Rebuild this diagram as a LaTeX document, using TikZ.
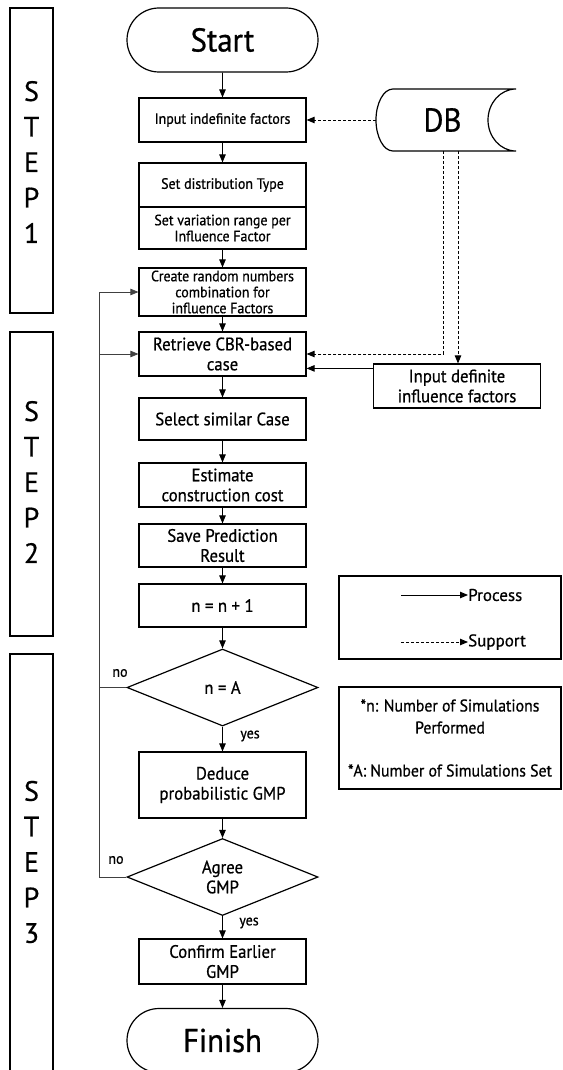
\documentclass[tikz,border=0pt]{standalone}
\usepackage{fontspec}
\setmainfont[FakeBold=0.6]{PT Sans}
\newfontfamily\condf[FakeStretch=0.93,FakeBold=0.7]{PT Sans}
\usetikzlibrary{arrows.meta,shapes.geometric,shapes.misc}
\tikzset{
  box/.style={draw, line width=1.2pt, minimum width=167pt, align=center, inner sep=0pt,
    font={\condf\fontsize{18pt}{20pt}\selectfont}},
  sbox/.style={box, font={\condf\fontsize{15pt}{16pt}\selectfont}},
  term/.style={draw, line width=1.2pt, rounded rectangle, minimum width=191pt, minimum height=64pt,
    inner sep=0pt, font={\condf\fontsize{33pt}{36pt}\selectfont}},
  dia/.style={draw, line width=1.2pt, diamond, aspect=2.48, minimum width=191pt, minimum height=77pt,
    inner sep=0pt, align=center, font={\condf\fontsize{18pt}{20pt}\selectfont}},
  stepbox/.style={draw, line width=1.2pt, minimum width=43pt, inner sep=0pt},
  steptext/.style={align=center, inner sep=0pt, font={\fontsize{28pt}{35.5pt}\selectfont}},
  lbl/.style={inner sep=0pt, font={\condf\fontsize{15pt}{16pt}\selectfont}},
  arr/.style={-{Triangle[length=8pt,width=6.5pt]}, line width=0.9pt},
  darr/.style={arr, dash pattern=on 3pt off 2pt},
  fb/.style={line width=0.7pt, draw=black!75},
  fbarr/.style={fb, -{Triangle[length=8pt,width=6.5pt]}},
  legbox/.style={draw, line width=1.2pt, minimum width=222pt, inner sep=0pt},
  legtext/.style={inner sep=0pt, anchor=west, font={\fontsize{17pt}{20pt}\selectfont}},
}
\begin{document}
\begin{tikzpicture}[x=1pt,y=-1pt]
\useasboundingbox (0,0) rectangle (562,1070);
\clip (0,0) rectangle (562,1070);
\fill[white] (0,0) rectangle (562,1070);

% step boxes
\node[stepbox, minimum height=305pt] (s1) at (31.5,160.5) {};
\node[steptext] (s1t) at (31.5,162) {S\\T\\E\\P\\1};
\node[stepbox, minimum height=304pt] (s2) at (31.5,484) {};
\node[steptext] (s2t) at (31.5,482) {S\\T\\E\\P\\2};
\node[stepbox, minimum height=440pt] (s3) at (31.5,874) {};
\node[steptext] (s3t) at (31.5,862) {S\\T\\E\\P\\3};

% main column
\node[term] (start) at (222.5,40) {Start};
\node[sbox, minimum height=44pt] (in1) at (222.5,120) {Input indefinite factors};
\node[sbox, minimum height=44pt] (dist) at (222.5,185) {Set distribution Type};
\node[sbox, minimum height=42pt] (var) at (222.5,228) {Set variation range per\\Influence Factor};
\node[sbox, minimum height=48pt] (rand) at (222.5,292) {Create random numbers\\combination for\\influence Factors};
\node[box, minimum height=44pt] (ret) at (222.5,354) {Retrieve CBR-based\\case};
\node[box, minimum height=42pt] (sel) at (222.5,419) {Select similar Case};
\node[box, minimum height=44pt] (est) at (222.5,485) {Estimate\\construction cost};
\node[box, minimum height=43pt] (save) at (222.5,545.5) {Save Prediction\\Result};
\node[box, minimum height=43pt] (inc) at (222.5,605.5) {n = n + 1};
\node[dia] (na) at (222.5,687.5) {n = A};
\node[box, minimum height=66pt] (ded) at (222.5,785) {Deduce\\probabilistic GMP};
\node[dia] (agr) at (222.5,877) {Agree\\GMP};
\node[box, minimum height=45pt] (conf) at (222.5,961.5) {Confirm Earlier\\GMP};
\node[term] (fin) at (222.5,1040.5) {Finish};

% DB (stored data symbol)
\node[minimum width=140pt, minimum height=62pt, inner sep=0pt,
  font={\condf\fontsize{33pt}{36pt}\selectfont}] (db) at (446,120) {\hspace*{-7pt}DB};
\draw[line width=1.2pt] (393,89) -- (516,89)
  .. controls (500.5,89) and (488,103) .. (488,120)
  .. controls (488,137) and (500.5,151) .. (516,151)
  -- (393,151)
  .. controls (383.6,151) and (376,137) .. (376,120)
  .. controls (376,103) and (383.6,89) .. (393,89) -- cycle;

\node[box, minimum height=44pt] (dif) at (457,386) {Input definite\\influence factors};

% process arrows
\draw[arr] (start) -- (in1);
\draw[arr] (in1) -- (dist);
\draw[arr] (var) -- (rand);
\draw[arr] (rand) -- (ret);
\draw[arr] (ret) -- (sel);
\draw[arr] (sel) -- (est);
\draw[arr] (est) -- (save);
\draw[arr] (save) -- (inc);
\draw[arr] (inc) -- (na);
\draw[arr] (na) -- (ded);
\draw[arr] (ded) -- (agr);
\draw[arr] (agr) -- (conf);
\draw[arr] (conf) -- (fin);
\draw[arr] ([yshift=-5pt]dif.north west) -- ([yshift=-5pt]dif.north west -| ret.east);

% support arrows
\draw[darr] (db.west) -- (in1.east);
\draw[darr] ([xshift=-2.5pt]db.south) |- (ret.east);
\draw[darr] ([xshift=12pt]db.south) -- ([xshift=12pt]db.south |- dif.north);

% feedback loops
\coordinate (lx) at (99,0);
\draw[fbarr] (agr.west) -- (agr.west -| lx) |- (rand.west);
\draw[fb] (na.west) -- (na.west -| lx);
\draw[fbarr] (ret.west -| lx) -- (ret.west);

% yes / no labels
\node[lbl] (no1) at (120,673) {no};
\node[lbl] (no2) at (116,860) {no};
\node[lbl] (yes1) at (250,736) {yes};
\node[lbl] (yes2) at (249,923) {yes};

% legend
\node[legbox, minimum height=83pt] (leg) at (450,617.5) {};
\node[legtext] (ptxt) at (468,595) {Process};
\node[legtext] (stxt) at (468,642) {Support};
\coordinate (p0) at (401,595);
\coordinate (q0) at (401,642);
\draw[arr] (p0) -- (ptxt.west);
\draw[darr] (q0) -- (stxt.west);

% notes
\node[legbox, minimum height=102pt, align=center,
  font={\condf\fontsize{17pt}{22pt}\selectfont}] (notes) at (450,738)
  {*n: Number of Simulations\\Performed\\[21pt]*A: Number of Simulations Set};
\end{tikzpicture}
\end{document}
